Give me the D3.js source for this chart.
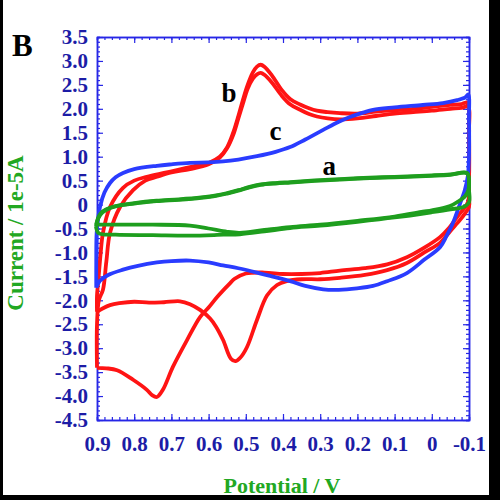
<!DOCTYPE html>
<html>
<head>
<meta charset="utf-8">
<script src="https://cdn.jsdelivr.net/npm/d3@7"></script>
<style>
	body { margin: 0; background: #000; }
	svg { display: block; }
</style>
</head>
<body>
<svg id="chart" width="500" height="500"></svg>
<script>
// potential (V) / current (1e-5 A) pairs
var curveA1 = [[0.902,-0.42],[0.898,-0.3],[0.89,-0.18],[0.876,-0.1],[0.85,-0.03],[0.8,0.03],[0.74,0.08],[0.68,0.11],[0.62,0.15],[0.58,0.19],[0.55,0.24],[0.52,0.3],[0.49,0.37],[0.46,0.42],[0.42,0.45],[0.38,0.47],[0.3,0.51],[0.2,0.55],[0.1,0.58],[0.0,0.61],[-0.05,0.63],[-0.095,0.66],[-0.1,0.5],[-0.098,0.3],[-0.09,0.18],[-0.07,0.06],[-0.049,-0.03],[0.0,-0.12],[0.024,-0.15],[0.1,-0.25],[0.2,-0.34],[0.3,-0.42],[0.381,-0.47],[0.45,-0.53],[0.516,-0.59],[0.55,-0.57],[0.6,-0.5],[0.65,-0.44],[0.75,-0.42],[0.85,-0.42],[0.902,-0.42]]
var curveA2 = [[0.903,-0.45],[0.896,-0.28],[0.885,-0.16],[0.86,-0.06],[0.8,0.02],[0.74,0.07],[0.68,0.1],[0.62,0.14],[0.58,0.18],[0.55,0.23],[0.52,0.29],[0.49,0.36],[0.46,0.41],[0.42,0.44],[0.38,0.46],[0.3,0.5],[0.2,0.54],[0.1,0.57],[0.0,0.6],[-0.05,0.62],[-0.095,0.65],[-0.1,0.3],[-0.1,0.05],[-0.085,-0.05],[-0.05,-0.1],[0.0,-0.16],[0.1,-0.27],[0.2,-0.36],[0.3,-0.44],[0.381,-0.49],[0.45,-0.56],[0.516,-0.62],[0.56,-0.63],[0.65,-0.65],[0.75,-0.64],[0.85,-0.63],[0.895,-0.6],[0.903,-0.45]]

var curveB1 = [[0.9,-2.24],[0.9,-1.9],[0.897,-1.64],[0.89,-1.0],[0.884,-0.59],[0.865,-0.05],[0.83,0.35],[0.8,0.5],[0.766,0.58],[0.72,0.66],[0.685,0.72],[0.64,0.8],[0.6,0.87],[0.57,1.0],[0.55,1.2],[0.534,1.5],[0.52,1.85],[0.508,2.18],[0.495,2.5],[0.481,2.76],[0.47,2.88],[0.46,2.92],[0.45,2.88],[0.43,2.7],[0.403,2.39],[0.38,2.2],[0.354,2.09],[0.33,2.01],[0.309,1.96],[0.28,1.93],[0.247,1.91],[0.2,1.9],[0.15,1.94],[0.1,1.97],[0.05,2.0],[0.0,2.04],[-0.05,2.08],[-0.08,2.1],[-0.097,2.13],[-0.1,1.8],[-0.1,1.0],[-0.1,0.2],[-0.1,-0.05],[-0.088,-0.2],[-0.076,-0.32],[-0.05,-0.55],[-0.022,-0.8],[0.02,-1.0],[0.067,-1.22],[0.12,-1.37],[0.18,-1.47],[0.247,-1.53],[0.3,-1.56],[0.35,-1.56],[0.39,-1.6],[0.416,-1.68],[0.443,-1.9],[0.47,-2.41],[0.497,-2.98],[0.515,-3.2],[0.528,-3.27],[0.54,-3.22],[0.561,-2.83],[0.58,-2.55],[0.596,-2.38],[0.623,-2.2],[0.65,-2.08],[0.677,-2.02],[0.72,-2.04],[0.76,-2.05],[0.8,-2.03],[0.84,-2.06],[0.865,-2.1],[0.885,-2.17],[0.9,-2.24]]
var curveB2 = [[0.9,-3.41],[0.9,-2.5],[0.895,-2.0],[0.884,-1.78],[0.875,-1.2],[0.865,-0.59],[0.838,-0.05],[0.803,0.3],[0.77,0.5],[0.739,0.58],[0.7,0.67],[0.65,0.74],[0.6,0.84],[0.57,0.98],[0.55,1.18],[0.534,1.45],[0.52,1.8],[0.508,2.1],[0.495,2.42],[0.481,2.63],[0.47,2.72],[0.46,2.75],[0.45,2.71],[0.43,2.55],[0.403,2.27],[0.38,2.09],[0.354,1.98],[0.33,1.89],[0.309,1.84],[0.28,1.8],[0.247,1.78],[0.2,1.8],[0.15,1.85],[0.1,1.9],[0.05,1.93],[0.0,1.96],[-0.05,2.0],[-0.08,2.02],[-0.097,2.05],[-0.1,1.5],[-0.1,0.5],[-0.097,0.05],[-0.068,-0.26],[-0.045,-0.5],[-0.022,-0.68],[0.02,-0.9],[0.067,-1.1],[0.12,-1.25],[0.18,-1.33],[0.247,-1.38],[0.3,-1.43],[0.35,-1.45],[0.4,-1.45],[0.45,-1.42],[0.5,-1.44],[0.53,-1.55],[0.542,-1.64],[0.577,-1.93],[0.6,-2.15],[0.623,-2.35],[0.658,-2.83],[0.696,-3.39],[0.723,-3.87],[0.739,-4.02],[0.752,-3.98],[0.766,-3.87],[0.803,-3.66],[0.846,-3.46],[0.875,-3.42],[0.9,-3.41]]

var curveC = [[0.902,-1.74],[0.902,-1.2],[0.901,-0.6],[0.897,-0.3],[0.892,-0.05],[0.88,0.25],[0.865,0.45],[0.85,0.57],[0.83,0.66],[0.8,0.74],[0.739,0.81],[0.7,0.84],[0.65,0.87],[0.6,0.88],[0.561,0.9],[0.52,0.94],[0.47,1.01],[0.42,1.1],[0.381,1.2],[0.34,1.36],[0.292,1.56],[0.25,1.73],[0.22,1.83],[0.185,1.92],[0.158,1.98],[0.1,2.03],[0.024,2.08],[-0.03,2.12],[-0.068,2.18],[-0.09,2.24],[-0.098,2.3],[-0.1,1.8],[-0.1,1.0],[-0.097,0.6],[-0.089,0.31],[-0.075,0.0],[-0.057,-0.38],[-0.04,-0.65],[-0.022,-0.89],[0.02,-1.15],[0.067,-1.43],[0.12,-1.6],[0.158,-1.7],[0.201,-1.75],[0.25,-1.78],[0.292,-1.77],[0.34,-1.7],[0.381,-1.6],[0.43,-1.5],[0.47,-1.42],[0.52,-1.33],[0.561,-1.27],[0.6,-1.21],[0.65,-1.17],[0.7,-1.18],[0.739,-1.21],[0.79,-1.28],[0.83,-1.36],[0.87,-1.47],[0.892,-1.59],[0.902,-1.74]]

var xTicks = [0.9,0.8,0.7,0.6,0.5,0.4,0.3,0.2,0.1,0,-0.1]
var xTickLabels = ["0.9","0.8","0.7","0.6","0.5","0.4","0.3","0.2","0.1","0","-0.1"]
var yTicks = [3.5,3,2.5,2,1.5,1,0.5,0,-0.5,-1,-1.5,-2,-2.5,-3,-3.5,-4,-4.5]
var yTickLabels = ["3.5","3.0","2.5","2.0","1.5","1.0","0.5","0","-0.5","-1.0","-1.5","-2.0","-2.5","-3.0","-3.5","-4.0","-4.5"]

var curveLabels = [
	{text:"b", v:0.545, i:2.14},
	{text:"c", v:0.42, i:1.35},
	{text:"a", v:0.276, i:0.62}
]

var series = [
	{name:"b1", pts:curveB1, color:"#ff1414"},
	{name:"b2", pts:curveB2, color:"#ff1414"},
	{name:"c", pts:curveC, color:"#2a3cff"},
	{name:"a1", pts:curveA1, color:"#1e9e1e"},
	{name:"a2", pts:curveA2, color:"#1e9e1e"}
]

var axisBlue = "#2626e6"
var labelBlue = "#1c1ca6"
var serif = "'Liberation Serif','DejaVu Serif',serif"

var svg = d3.select("#chart")

svg.append("rect")
	.attr("x",3).attr("y",0)
	.attr("width",486).attr("height",495)
	.attr("fill","#fff")

var x = d3.scaleLinear().domain([0.9,-0.1]).range([97,469])
var y = d3.scaleLinear().domain([3.5,-4.5]).range([37,420])

var xMinor = d3.range(0,51).map(function(i){ return 0.9 - i*0.02 })
var yMinor = d3.range(0,81).map(function(i){ return 3.5 - i*0.1 })

function styleAxis(g){
	g.select(".domain").attr("stroke",axisBlue).attr("stroke-width",1.5)
	g.selectAll(".tick line").attr("stroke",axisBlue).attr("stroke-width",1.2)
	g.selectAll(".tick text")
		.attr("fill",labelBlue)
		.style("font-family",serif)
		.style("font-weight","bold")
		.style("font-size","21px")
}

// minor ticks first, then major ticks with labels
svg.append("g").attr("transform","translate(0,420)")
	.call(d3.axisBottom(x).tickValues(xMinor).tickSize(-3).tickFormat(""))
	.call(styleAxis)
svg.append("g").attr("transform","translate(0,37)")
	.call(d3.axisTop(x).tickValues(xMinor).tickSize(-3).tickFormat(""))
	.call(styleAxis)
svg.append("g").attr("transform","translate(97,0)")
	.call(d3.axisLeft(y).tickValues(yMinor).tickSize(-3).tickFormat(""))
	.call(styleAxis)
svg.append("g").attr("transform","translate(469,0)")
	.call(d3.axisRight(y).tickValues(yMinor).tickSize(-3).tickFormat(""))
	.call(styleAxis)

svg.append("g").attr("transform","translate(0,420)")
	.call(d3.axisBottom(x).tickValues(xTicks).tickSizeInner(-6).tickSizeOuter(0).tickPadding(16)
		.tickFormat(function(d,i){ return xTickLabels[i] }))
	.call(styleAxis)
svg.append("g").attr("transform","translate(0,37)")
	.call(d3.axisTop(x).tickValues(xTicks).tickSizeInner(-6).tickSizeOuter(0).tickFormat(""))
	.call(styleAxis)
svg.append("g").attr("transform","translate(97,0)")
	.call(d3.axisLeft(y).tickValues(yTicks).tickSizeInner(-6).tickSizeOuter(0).tickPadding(9)
		.tickFormat(function(d,i){ return yTickLabels[i] }))
	.call(styleAxis)
svg.append("g").attr("transform","translate(469,0)")
	.call(d3.axisRight(y).tickValues(yTicks).tickSizeInner(-6).tickSizeOuter(0).tickFormat(""))
	.call(styleAxis)

var line = d3.line()
	.x(function(d){ return x(d[0]) })
	.y(function(d){ return y(d[1]) })
	.curve(d3.curveCatmullRom.alpha(0.5))

svg.append("g").selectAll("path.cv")
	.data(series)
.enter().append("path")
	.classed("cv",true)
	.attr("d",function(d){ return line(d.pts) })
	.attr("fill","none")
	.attr("stroke",function(d){ return d.color })
	.attr("stroke-width",3.8)
	.attr("stroke-linejoin","round")

svg.selectAll("text.curve-label")
	.data(curveLabels)
.enter().append("text")
	.classed("curve-label",true)
	.attr("x",function(d){ return x(d.v) })
	.attr("y",function(d){ return y(d.i) })
	.attr("text-anchor","middle")
	.style("font-family",serif)
	.style("font-weight","bold")
	.style("font-size","27px")
	.text(function(d){ return d.text })

svg.append("text")
	.attr("x",12).attr("y",56)
	.style("font-family",serif)
	.style("font-weight","bold")
	.style("font-size","31px")
	.text("B")

svg.append("text")
	.attr("transform","translate(23,233) rotate(-90)")
	.attr("text-anchor","middle")
	.attr("fill","#22a822")
	.style("font-family",serif)
	.style("font-weight","bold")
	.style("font-size","23px")
	.text("Current / 1e-5A")

svg.append("text")
	.attr("x",282).attr("y",493)
	.attr("text-anchor","middle")
	.attr("fill","#22a822")
	.style("font-family",serif)
	.style("font-weight","bold")
	.style("font-size","22px")
	.text("Potential / V")
</script>
</body>
</html>
